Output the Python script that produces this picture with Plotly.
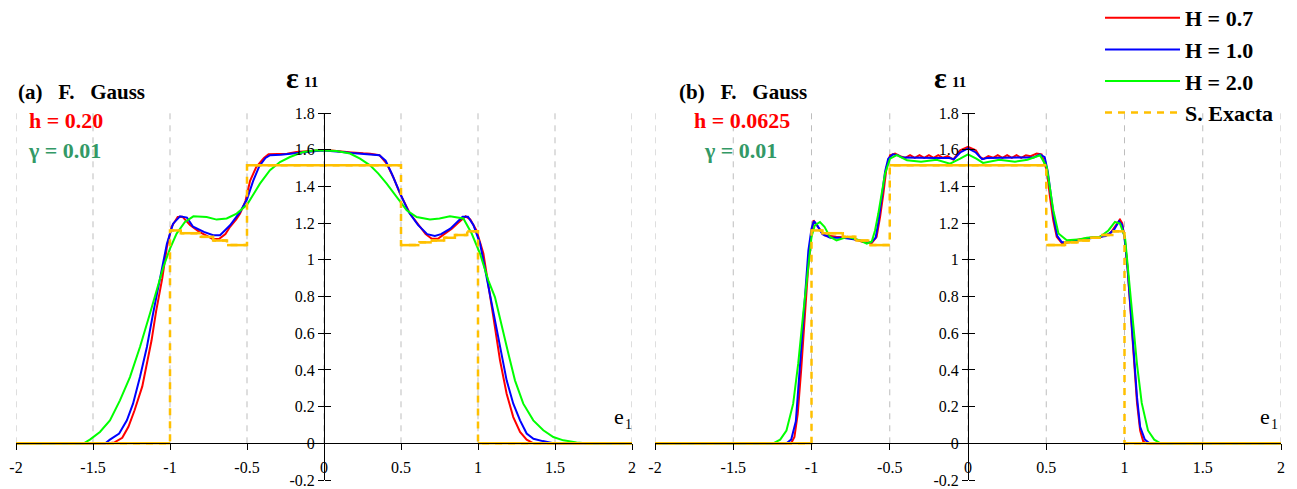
import plotly.graph_objects as go

# ---------------- data ----------------
x_tick_vals = [-2, -1.5, -1, -0.5, 0, 0.5, 1, 1.5, 2]
x_tick_text = ["-2", "-1.5", "-1", "-0.5", "0", "0.5", "1", "1.5", "2"]
y_tick_vals = [-0.2, 0, 0.2, 0.4, 0.6, 0.8, 1.0, 1.2, 1.4, 1.6, 1.8]
y_tick_text = ["-0.2", "0", "0.2", "0.4", "0.6", "0.8", "1", "1.2", "1.4", "1.6", "1.8"]

series_names = ["H = 0.7", "H = 1.0", "H = 2.0", "S. Exacta"]

# panel (a)  h = 0.20
a_red_x = [-2.0, -1.40, -1.36, -1.31, -1.27, -1.23, -1.18, -1.15, -1.12, -1.09, -1.05, -1.02, -0.99, -0.95,
           -0.92, -0.87, -0.81, -0.76, -0.72, -0.68, -0.64, -0.61, -0.57, -0.545, -0.51, -0.48, -0.44, -0.39,
           -0.36, -0.30, -0.24, -0.18, -0.11, -0.05, 0.0, 0.05, 0.11, 0.18, 0.255, 0.30, 0.36, 0.407, 0.45,
           0.494, 0.558, 0.623, 0.66, 0.70, 0.74, 0.78, 0.83, 0.87, 0.92, 0.95, 0.99, 1.035, 1.067, 1.10,
           1.143, 1.186, 1.229, 1.273, 1.316, 1.36, 2.0]
a_red_y = [0.0, 0.0, 0.005, 0.03, 0.09, 0.18, 0.31, 0.43, 0.56, 0.72, 0.90, 1.07, 1.18, 1.233,
           1.235, 1.19, 1.152, 1.13, 1.112, 1.115, 1.14, 1.18, 1.22, 1.252, 1.32, 1.43, 1.505, 1.555,
           1.575, 1.577, 1.578, 1.588, 1.593, 1.597, 1.598, 1.596, 1.59, 1.585, 1.58, 1.578, 1.57, 1.524, 1.45,
           1.36, 1.252, 1.18, 1.14, 1.115, 1.115, 1.14, 1.17, 1.20, 1.237, 1.22, 1.16, 1.034, 0.87, 0.688,
           0.452, 0.27, 0.143, 0.062, 0.02, 0.0, 0.0]

a_blue_x = [-2.0, -1.42, -1.39, -1.33, -1.28, -1.24, -1.195, -1.15, -1.11, -1.065, -1.02, -0.98, -0.935,
            -0.89, -0.85, -0.78, -0.72, -0.675, -0.61, -0.545, -0.50, -0.46, -0.42, -0.38, -0.35, -0.28,
            -0.20, -0.12, -0.05, 0.0, 0.05, 0.12, 0.20, 0.30, 0.36, 0.40, 0.44, 0.49, 0.55, 0.61, 0.67,
            0.72, 0.76, 0.82, 0.87, 0.90, 0.935, 0.97, 1.013, 1.056, 1.10, 1.143, 1.186, 1.229, 1.273,
            1.316, 1.36, 1.42, 1.49, 2.0]
a_blue_y = [0.0, 0.0, 0.02, 0.053, 0.125, 0.216, 0.361, 0.525, 0.707, 0.906, 1.088, 1.197, 1.237,
            1.23, 1.18, 1.152, 1.134, 1.134, 1.188, 1.261, 1.33, 1.43, 1.51, 1.555, 1.57, 1.573,
            1.58, 1.59, 1.593, 1.595, 1.593, 1.588, 1.58, 1.575, 1.57, 1.54, 1.47, 1.37, 1.26, 1.19, 1.14,
            1.13, 1.14, 1.17, 1.21, 1.235, 1.235, 1.19, 1.09, 0.906, 0.725, 0.525, 0.343, 0.216, 0.125,
            0.053, 0.025, 0.012, 0.0, 0.0]

a_green_x = [-2.0, -1.56, -1.52, -1.455, -1.39, -1.325, -1.26, -1.195, -1.13, -1.086, -1.043, -1.0,
             -0.957, -0.903, -0.848, -0.762, -0.697, -0.632, -0.567, -0.50, -0.416, -0.351, -0.286,
             -0.221, -0.134, -0.047, 0.08, 0.169, 0.234, 0.299, 0.353, 0.407, 0.472, 0.537, 0.602,
             0.688, 0.75, 0.818, 0.905, 0.959, 1.013, 1.067, 1.11, 1.154, 1.197, 1.24, 1.294, 1.359,
             1.424, 1.489, 1.554, 1.64, 1.70, 2.0]
a_green_y = [0.0, 0.0, 0.02, 0.062, 0.125, 0.234, 0.361, 0.525, 0.707, 0.834, 0.961, 1.061,
             1.143, 1.206, 1.237, 1.233, 1.219, 1.225, 1.252, 1.30, 1.415, 1.488, 1.533,
             1.56, 1.588, 1.597, 1.593, 1.579, 1.551, 1.515, 1.47, 1.415, 1.342, 1.27, 1.233,
             1.22, 1.225, 1.237, 1.225, 1.143, 1.034, 0.888, 0.797, 0.634, 0.489, 0.343, 0.216, 0.125,
             0.071, 0.034, 0.016, 0.005, 0.0, 0.0]

# exact solution (same for both panels)
exact_x = [-2.0, -1.0, -1.0, -0.93, -0.93, -0.80, -0.80, -0.72, -0.72, -0.63, -0.63, -0.5, -0.5,
           0.5, 0.5, 0.62, 0.62, 0.70, 0.70, 0.78, 0.78, 0.85, 0.85, 0.93, 0.93, 1.0, 1.0, 2.0]
exact_y = [0.0, 0.0, 1.16, 1.16, 1.145, 1.145, 1.125, 1.125, 1.105, 1.105, 1.08, 1.08, 1.515,
           1.515, 1.08, 1.08, 1.095, 1.095, 1.105, 1.105, 1.12, 1.12, 1.135, 1.135, 1.155, 1.155, 0.0, 0.0]

# panel (b)  h = 0.0625
b_red_x = [-2.0, -1.13, -1.109, -1.088, -1.066, -1.045, -1.024, -1.002, -0.987, -0.96, -0.917, -0.842,
           -0.757, -0.67, -0.616, -0.584, -0.562, -0.541, -0.52, -0.498, -0.466, -0.434, -0.40, -0.37,
           -0.34, -0.31, -0.28, -0.25, -0.22, -0.19, -0.16, -0.13, -0.094, -0.05, 0.0, 0.05, 0.077, 0.10,
           0.13, 0.16, 0.19, 0.22, 0.25, 0.28, 0.31, 0.34, 0.37, 0.40, 0.439, 0.47, 0.503, 0.524, 0.545,
           0.567, 0.60, 0.65, 0.70, 0.78, 0.85, 0.908, 0.95, 0.971, 0.985, 1.003, 1.02, 1.04, 1.06, 1.08,
           1.10, 1.12, 1.14, 2.0]
b_red_y = [0.0, 0.0, 0.034, 0.16, 0.40, 0.652, 0.925, 1.125, 1.215, 1.18, 1.134, 1.125,
           1.12, 1.097, 1.09, 1.125, 1.233, 1.36, 1.506, 1.57, 1.579, 1.565, 1.555, 1.57,
           1.556, 1.57, 1.556, 1.57, 1.556, 1.57, 1.556, 1.565, 1.546, 1.597, 1.615, 1.597, 1.56, 1.55,
           1.565, 1.556, 1.57, 1.556, 1.57, 1.556, 1.57, 1.556, 1.57, 1.565, 1.579, 1.575, 1.488, 1.342, 1.215,
           1.125, 1.09, 1.095, 1.11, 1.12, 1.125, 1.143, 1.19, 1.219, 1.20, 1.106, 0.95, 0.70, 0.45, 0.22,
           0.07, 0.01, 0.0, 0.0]

b_blue_x = [-2.0, -1.16, -1.13, -1.10, -1.08, -1.06, -1.04, -1.02, -1.0, -0.985, -0.965, -0.93, -0.88,
            -0.80, -0.72, -0.66, -0.62, -0.59, -0.57, -0.55, -0.53, -0.51, -0.48, -0.45, -0.42, -0.20,
            -0.12, -0.09, -0.05, 0.0, 0.05, 0.09, 0.12, 0.42, 0.46, 0.49, 0.51, 0.53, 0.55, 0.57, 0.60,
            0.66, 0.72, 0.80, 0.88, 0.93, 0.965, 0.985, 1.0, 1.02, 1.04, 1.06, 1.08, 1.10, 1.13, 1.16, 2.0]
b_blue_y = [0.0, 0.0, 0.02, 0.12, 0.35, 0.60, 0.85, 1.05, 1.17, 1.21, 1.19, 1.14, 1.12,
            1.12, 1.11, 1.10, 1.095, 1.12, 1.22, 1.35, 1.48, 1.55, 1.575, 1.57, 1.557, 1.555,
            1.555, 1.548, 1.585, 1.607, 1.585, 1.548, 1.555, 1.558, 1.575, 1.56, 1.48, 1.35, 1.22, 1.13, 1.095,
            1.10, 1.11, 1.12, 1.13, 1.16, 1.21, 1.19, 1.12, 0.95, 0.72, 0.48, 0.25, 0.09, 0.02, 0.0, 0.0]

b_green_x = [-2.0, -1.245, -1.20, -1.16, -1.117, -1.085, -1.053, -1.021, -1.0, -0.979, -0.946, -0.917,
             -0.882, -0.84, -0.77, -0.69, -0.647, -0.615, -0.594, -0.573, -0.552, -0.53, -0.498, -0.455,
             -0.39, -0.30, -0.20, -0.115, -0.05, 0.0, 0.053, 0.096, 0.20, 0.30, 0.38, 0.46, 0.503, 0.524,
             0.545, 0.578, 0.631, 0.70, 0.76, 0.844, 0.897, 0.939, 0.971, 1.003, 1.02, 1.05, 1.08, 1.11,
             1.15, 1.19, 1.23, 2.0]
b_green_y = [0.0, 0.0, 0.02, 0.07, 0.216, 0.434, 0.707, 0.979, 1.125, 1.188, 1.206, 1.18,
             1.125, 1.106, 1.125, 1.106, 1.088, 1.10, 1.16, 1.252, 1.36, 1.47, 1.551, 1.57,
             1.542, 1.535, 1.545, 1.524, 1.551, 1.575, 1.551, 1.528, 1.545, 1.535, 1.545, 1.57, 1.506, 1.397,
             1.27, 1.143, 1.106, 1.11, 1.12, 1.125, 1.16, 1.206, 1.197, 1.125, 0.98, 0.70, 0.43, 0.22,
             0.07, 0.02, 0.0, 0.0]

# ---------------- styling ----------------
W, H = 1297, 489
FONT = "Liberation Serif"
RED, BLUE, GREEN, GOLD = "#FF0000", "#0000FF", "#00FF00", "#FFC000"
TEAL = "#339966"
x_rng = [-2, 2]
y_rng = [-0.2, 1.8]
dom_y = [1 - 480 / H, 1 - 113 / H]
dom_x = {"a": [16 / W, 632 / W], "b": [655 / W, 1281 / W]}


def solid_parts(xs, ys):
    """Horizontal parts of the exact solution (vertical jumps are shown dashed)."""
    sx, sy = [], []
    for i in range(len(xs) - 1):
        if xs[i] != xs[i + 1]:
            sx += [xs[i], xs[i + 1], None]
            sy += [ys[i], ys[i + 1], None]
    return sx, sy


fig = go.Figure()

panels = [
    ("a", "x", "y", "y3", a_red_x, a_red_y, a_blue_x, a_blue_y, a_green_x, a_green_y, True),
    ("b", "x2", "y2", "y4", b_red_x, b_red_y, b_blue_x, b_blue_y, b_green_x, b_green_y, False),
]

for key, xa, ya, yo, rx, ry, bx, by, gx, gy, show in panels:
    for (xs, ys, col, name) in [(rx, ry, RED, series_names[0]), (bx, by, BLUE, series_names[1]),
                                (gx, gy, GREEN, series_names[2])]:
        fig.add_trace(go.Scatter(x=xs, y=ys, mode="lines", name=name, showlegend=show,
                                 line=dict(color=col, width=2), xaxis=xa, yaxis=ya,
                                 hoverinfo="skip"))
    sx, sy = solid_parts(exact_x, exact_y)
    fig.add_trace(go.Scatter(x=sx, y=sy, mode="lines", showlegend=False,
                             line=dict(color=GOLD, width=2.5), xaxis=xa, yaxis=ya, hoverinfo="skip"))
    fig.add_trace(go.Scatter(x=exact_x, y=exact_y, mode="lines", name=series_names[3], showlegend=show,
                             line=dict(color=GOLD, width=2.5, dash="7px,6px"), xaxis=xa, yaxis=ya,
                             hoverinfo="skip"))
    # overlay axis only used for the right half of the crossing y ticks
    fig.add_trace(go.Scatter(x=[], y=[], xaxis=xa, yaxis=yo, showlegend=False, hoverinfo="skip"))

tick_font = dict(family=FONT, size=16, color="black")


def x_axis(key):
    d = dom_x[key]
    pos0 = dom_y[0] + (0 - y_rng[0]) / (y_rng[1] - y_rng[0]) * (dom_y[1] - dom_y[0])
    return dict(domain=d, range=x_rng, anchor="free", position=pos0, showline=True,
                linecolor="black", linewidth=1, ticks="outside", ticklen=6, tickcolor="black",
                tickwidth=1, tickvals=x_tick_vals, ticktext=x_tick_text, tickfont=tick_font,
                ticklabelstandoff=3, showgrid=False, zeroline=False, fixedrange=True,
                automargin=False)


def y_axis(key, side="left", labels=True, overlay=None):
    d = dom_x[key]
    pos = d[0] + (0 - x_rng[0]) / (x_rng[1] - x_rng[0]) * (d[1] - d[0])
    ax = dict(domain=dom_y, range=y_rng, anchor="free", position=pos, side=side,
              showline=labels, linecolor="black", linewidth=1, ticks="outside", ticklen=6,
              tickcolor="black", tickwidth=1, tickvals=y_tick_vals, ticktext=y_tick_text,
              showticklabels=labels, tickfont=tick_font, showgrid=False, zeroline=False,
              fixedrange=True, automargin=False)
    if overlay:
        ax["overlaying"] = overlay
    return ax


# dashed vertical grid lines, from 0 up to the top of the y axis
shapes = []
for xa, ya in [("x", "y"), ("x2", "y2")]:
    for v in x_tick_vals:
        shapes.append(dict(type="line", xref=xa, yref=ya, x0=v, x1=v, y0=0, y1=y_rng[1],
                           line=dict(color="#BDBDBD", width=1, dash="6px,6px"), layer="below"))

ann = []


def txt(x, y, s, size, color="black", xanchor="left", bold=True):
    ann.append(dict(x=x / W, y=1 - y / H, xref="paper", yref="paper", text=s, showarrow=False,
                    xanchor=xanchor, yanchor="middle",
                    font=dict(family=FONT, size=size, color=color,
                              weight="bold" if bold else "normal")))


txt(16, 92, "(a)   F.   Gauss", 21)
txt(27, 121, "h = 0.20", 22, RED)
txt(26, 150, "γ = 0.01", 22, TEAL)
txt(677, 92, "(b)   F.   Gauss", 21)
txt(742, 121, "h = 0.0625", 22, RED, "center")
txt(740, 150, "γ = 0.01", 22, TEAL, "center")
for cx in (292, 940):
    txt(cx, 78, "ε", 30, "black", "center")
    txt(cx + 19, 82, "11", 15, "black", "center")
for cx in (619, 1265):
    txt(cx, 416, "e", 22, "black", "center", bold=False)
    txt(cx + 9, 424, "1", 14, "black", "center", bold=False)

fig.update_layout(
    width=W, height=H, autosize=False,
    margin=dict(l=0, r=0, t=0, b=0, autoexpand=False),
    paper_bgcolor="white", plot_bgcolor="white",
    xaxis=x_axis("a"), xaxis2=x_axis("b"),
    yaxis=y_axis("a"), yaxis2=y_axis("b"),
    yaxis3=y_axis("a", side="right", labels=False, overlay="y"),
    yaxis4=y_axis("b", side="right", labels=False, overlay="y2"),
    shapes=shapes, annotations=ann,
    legend=dict(x=1100 / W, y=1 + 3 / H, xanchor="left", yanchor="top",
                font=dict(family=FONT, size=22, color="black", weight="bold"),
                bgcolor="rgba(0,0,0,0)", itemwidth=75, tracegroupgap=0),
    showlegend=True,
)

# the page's default 8px body margin would shift the fixed-size figure
fig.write_html("out.html", config={"displayModeBar": False},
               post_script="document.body.style.margin='0';document.body.style.overflow='hidden';")
